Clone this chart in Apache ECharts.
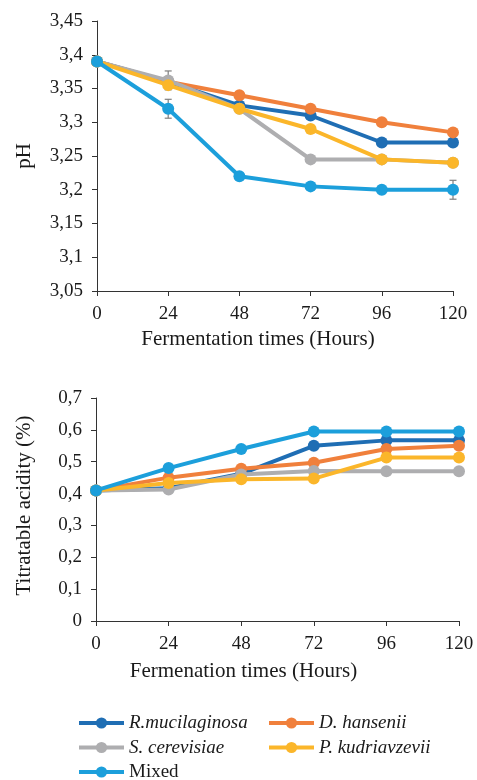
<!DOCTYPE html>
<html>
<head>
<meta charset="utf-8">
<script src="https://cdn.jsdelivr.net/npm/echarts@6/dist/echarts.min.js"></script>
<style>
html,body{margin:0;padding:0;background:#fff;}
#c{width:477px;height:780px;}
</style>
</head>
<body>
<div id="c"></div>
<script>
const hours = [0, 24, 48, 72, 96, 120];
const seriesNames = ['R.mucilaginosa', 'D. hansenii', 'S. cerevisiae', 'P. kudriavzevii', 'Mixed'];

// pH values
const phRmuc = [3.39, 3.36, 3.325, 3.31, 3.27, 3.27];
const phDhan = [3.39, 3.36, 3.34, 3.32, 3.30, 3.285];
const phScer = [3.39, 3.362, 3.32, 3.245, 3.245, 3.24];
const phPkud = [3.39, 3.355, 3.32, 3.29, 3.245, 3.24];
const phMixed = [3.39, 3.32, 3.22, 3.205, 3.20, 3.20];
// pH error bars (standard deviation)
const phErrRmuc = [0, 0, 0, 0, 0, 0];
const phErrDhan = [0, 0, 0, 0, 0, 0];
const phErrScer = [0, 0.014, 0, 0, 0, 0];
const phErrPkud = [0, 0, 0, 0, 0, 0];
const phErrMixed = [0, 0.014, 0, 0, 0, 0.014];

// Titratable acidity values (%)
const taRmuc = [0.41, 0.417, 0.462, 0.55, 0.567, 0.567];
const taDhan = [0.41, 0.45, 0.478, 0.497, 0.54, 0.55];
const taScer = [0.41, 0.413, 0.46, 0.471, 0.47, 0.47];
const taPkud = [0.41, 0.433, 0.445, 0.447, 0.513, 0.513];
const taMixed = [0.41, 0.48, 0.54, 0.595, 0.595, 0.595];

const phTicks = ['3,05','3,1','3,15','3,2','3,25','3,3','3,35','3,4','3,45'];
const taTicks = ['0','0,1','0,2','0,3','0,4','0,5','0,6','0,7'];

const colors = ['#1f6eb4', '#f0803c', '#aeaeb0', '#fbb62a', '#1c9fdb'];
const FONT = 'Liberation Serif';
const TXT = '#1a1a1a';

const phSets = [phRmuc, phDhan, phScer, phPkud, phMixed];
const phErrs = [phErrRmuc, phErrDhan, phErrScer, phErrPkud, phErrMixed];
const taSets = [taRmuc, taDhan, taScer, taPkud, taMixed];

function pair(vals) { return hours.map((h, i) => [h, vals[i]]); }
function fmt(v) { return String(parseFloat(v.toFixed(2))).replace('.', ','); }

const series = [];
seriesNames.forEach((n, k) => {
  series.push({
    name: n, type: 'line', xAxisIndex: 0, yAxisIndex: 0, data: pair(phSets[k]),
    symbol: 'circle', symbolSize: 12, color: colors[k],
    lineStyle: {width: 4}, z: 3 + k, animation: false
  });
});
seriesNames.forEach((n, k) => {
  series.push({
    name: n, type: 'line', xAxisIndex: 1, yAxisIndex: 1, data: pair(taSets[k]),
    symbol: 'circle', symbolSize: 12, color: colors[k],
    lineStyle: {width: 4}, z: 3 + k, animation: false
  });
});
// error bars
const errData = [];
phSets.forEach((vals, k) => {
  vals.forEach((v, i) => { if (phErrs[k][i] > 0) errData.push([hours[i], v, phErrs[k][i]]); });
});
series.push({
  type: 'custom', xAxisIndex: 0, yAxisIndex: 0, z: 2, animation: false,
  data: errData,
  renderItem: function (params, api) {
    const x = api.value(0), y = api.value(1), e = api.value(2);
    const hi = api.coord([x, y + e]), lo = api.coord([x, y - e]);
    const w = 3.5;
    const st = {stroke: '#7f7f7f', lineWidth: 1.2};
    return {type: 'group', children: [
      {type: 'line', shape: {x1: hi[0], y1: hi[1], x2: lo[0], y2: lo[1]}, style: st},
      {type: 'line', shape: {x1: hi[0]-w, y1: hi[1], x2: hi[0]+w, y2: hi[1]}, style: st},
      {type: 'line', shape: {x1: lo[0]-w, y1: lo[1], x2: lo[0]+w, y2: lo[1]}, style: st}
    ]};
  }
});

const axisLine = {show: true, lineStyle: {color: '#333', width: 1}};
const axisTick = {show: true, inside: false, length: 5, lineStyle: {color: '#333'}};
const lbl = {fontFamily: FONT, fontSize: 19, color: TXT};
const nameStyle = {fontFamily: FONT, fontSize: 21, color: TXT};

const legendText = {
  fontFamily: FONT, fontSize: 19, color: TXT, lineHeight: 20,
  rich: {
    i: {fontFamily: FONT, fontSize: 19, fontStyle: 'italic', color: TXT, lineHeight: 20},
    n: {fontFamily: FONT, fontSize: 19, color: TXT, lineHeight: 20}
  }
};
const legendFmt = n => (n === 'Mixed' ? '{n|' + n + '}' : '{i|' + n + '}');
const legendBase = {
  top: 713, height: 100, padding: 0, orient: 'vertical', itemWidth: 45, itemHeight: 14, itemGap: 4.5,
  textStyle: legendText, formatter: legendFmt, selectedMode: false,
  lineStyle: {width: 4}
};

const option = {
  backgroundColor: '#fff',
  animation: false,
  grid: [
    {left: 97, right: 24, top: 21, height: 270},
    {left: 96, right: 18, top: 398, height: 223}
  ],
  xAxis: [
    {type: 'value', gridIndex: 0, min: 0, max: 120, interval: 24, splitLine: {show: false},
     axisLine: axisLine, axisTick: axisTick, axisLabel: Object.assign({margin: 14}, lbl),
     name: 'Fermentation times (Hours)', nameLocation: 'middle', nameGap: 38,
     nameTextStyle: Object.assign({padding: [0, 34, 0, 0]}, nameStyle)},
    {type: 'value', gridIndex: 1, min: 0, max: 120, interval: 24, splitLine: {show: false},
     axisLine: axisLine, axisTick: axisTick, axisLabel: Object.assign({margin: 14}, lbl),
     name: 'Fermenation times (Hours)', nameLocation: 'middle', nameGap: 40,
     nameTextStyle: Object.assign({padding: [0, 68, 0, 0]}, nameStyle)}
  ],
  yAxis: [
    {type: 'value', gridIndex: 0, min: 3.05, max: 3.45, interval: 0.05, splitLine: {show: false},
     axisLine: axisLine, axisTick: axisTick,
     axisLabel: Object.assign({margin: 14, formatter: v => phTicks[Math.round((v - 3.05) / 0.05)] || fmt(v)}, lbl),
     name: 'pH', nameLocation: 'middle', nameGap: 62, nameTextStyle: nameStyle},
    {type: 'value', gridIndex: 1, min: 0, max: 0.7, interval: 0.1, splitLine: {show: false},
     axisLine: axisLine, axisTick: axisTick,
     axisLabel: Object.assign({margin: 14, formatter: v => taTicks[Math.round(v / 0.1)] || fmt(v)}, lbl),
     name: 'Titratable acidity (%)', nameLocation: 'middle', nameGap: 61,
     nameTextStyle: Object.assign({padding: [0, 0, 0, 8]}, nameStyle)}
  ],
  legend: [
    Object.assign({left: 77, data: [seriesNames[0], seriesNames[2], seriesNames[4]]}, legendBase),
    Object.assign({left: 267, data: [seriesNames[1], seriesNames[3]]}, legendBase)
  ],
  series: series
};

const chart = echarts.init(document.getElementById('c'), null, {renderer: 'canvas'});
chart.setOption(option);
</script>
</body>
</html>
